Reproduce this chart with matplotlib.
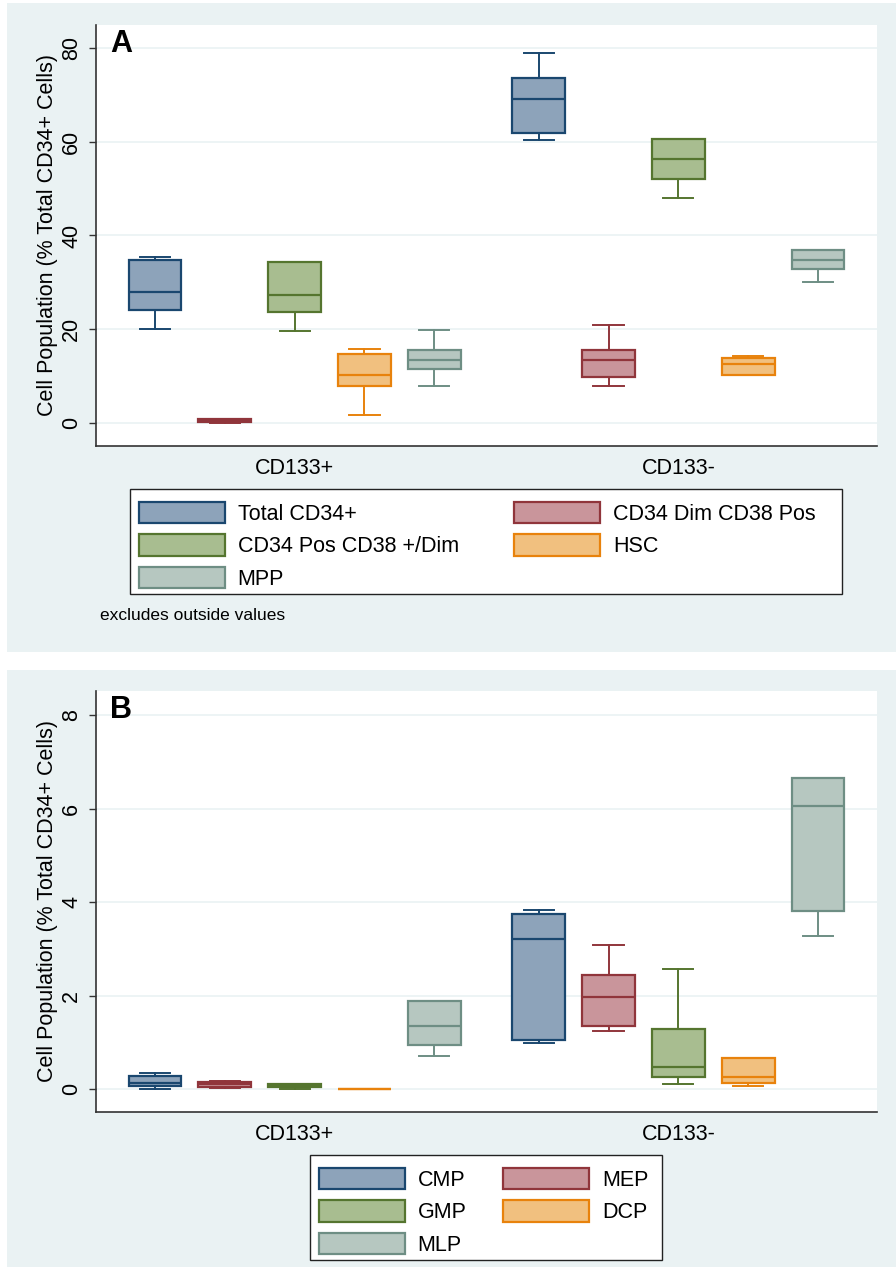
import matplotlib.pyplot as plt
from matplotlib.patches import Patch, Rectangle

plt.rcParams['font.family'] = ['Liberation Sans', 'DejaVu Sans']

# groups on the x axis
groups = ['CD133+', 'CD133-']

# panel A: whisker low, Q1, median, Q3, whisker high (per group, per population)
labels_a = ['Total CD34+', 'CD34 Dim CD38 Pos', 'CD34 Pos CD38 +/Dim', 'HSC', 'MPP']
whislo_a = [[20.0, 0.10, 19.6, 1.8, 8.0], [60.3, 7.8, 47.9, 10.3, 30.1]]
q1_a = [[24.1, 0.15, 23.6, 8.0, 11.5], [61.8, 9.9, 52.1, 10.3, 32.8]]
med_a = [[28.0, 0.50, 27.4, 10.3, 13.4], [69.2, 13.4, 56.3, 12.5, 34.8]]
q3_a = [[34.8, 0.90, 34.4, 14.7, 15.6], [73.7, 15.5, 60.6, 13.9, 37.0]]
whishi_a = [[35.4, 0.95, 34.4, 15.7, 19.8], [78.9, 20.9, 60.6, 14.2, 37.0]]
yticks_a = [0, 20, 40, 60, 80]

# panel B
labels_b = ['CMP', 'MEP', 'GMP', 'DCP', 'MLP']
whislo_b = [[0.00, 0.03, 0.00, 0.0, 0.71], [1.00, 1.25, 0.11, 0.07, 3.27]]
q1_b = [[0.07, 0.06, 0.06, 0.0, 0.94], [1.05, 1.36, 0.26, 0.14, 3.82]]
med_b = [[0.13, 0.11, 0.09, 0.0, 1.35], [3.21, 1.98, 0.48, 0.26, 6.06]]
q3_b = [[0.28, 0.16, 0.12, 0.006, 1.89], [3.75, 2.44, 1.29, 0.67, 6.67]]
whishi_b = [[0.34, 0.17, 0.12, 0.006, 1.89], [3.84, 3.08, 2.58, 0.67, 6.67]]
yticks_b = [0, 2, 4, 6, 8]

edges = ['#1a476f', '#90353b', '#55752f', '#e8820c', '#6e8e84']
fills = ['#8da3ba', '#c9959b', '#a8bd90', '#f1c07f', '#b6c7c0']
bg = '#eaf2f3'
FS = 15.5

W, H = 896, 1271
fig = plt.figure(figsize=(W / 100, H / 100), dpi=100)
fig.patch.set_facecolor('white')


def fbox(x0, y0, x1, y1):
    # pixel box (top-left origin) -> figure fraction rect
    return [x0 / W, 1 - y1 / H, (x1 - x0) / W, (y1 - y0) / H]


def frame(x0, y0, x1, y1, **kw):
    r = fbox(x0, y0, x1, y1)
    fig.add_artist(Rectangle((r[0], r[1]), r[2], r[3], transform=fig.transFigure, **kw))


for y0, y1 in [(3, 652), (670, 1267)]:
    frame(7, y0, 896, y1, facecolor=bg, edgecolor='none', zorder=-10)

group_gap = 5.49


def draw_panel(ax, labels, lo, q1, med, q3, hi, yticks, ylim, letter, legend_box, legend_right):
    stats, pos, cols = [], [], []
    for g in range(len(groups)):
        for i in range(len(labels)):
            stats.append(dict(whislo=lo[g][i], q1=q1[g][i], med=med[g][i],
                              q3=q3[g][i], whishi=hi[g][i], fliers=[]))
            pos.append(g * group_gap + i)
            cols.append(i)
    art = ax.bxp(stats, positions=pos, widths=0.75, capwidths=0.43, patch_artist=True,
                 showfliers=False, manage_ticks=False,
                 boxprops=dict(linewidth=1.6), medianprops=dict(linewidth=1.6),
                 whiskerprops=dict(linewidth=1.4), capprops=dict(linewidth=1.4))
    for k, c in enumerate(cols):
        art['boxes'][k].set_facecolor(fills[c])
        art['boxes'][k].set_edgecolor(edges[c])
        art['medians'][k].set_color(edges[c])
        for j in (2 * k, 2 * k + 1):
            art['whiskers'][j].set_color(edges[c])
            art['caps'][j].set_color(edges[c])

    ax.set_xlim(-0.84, 10.33)
    ax.set_ylim(*ylim)
    ax.set_yticks(yticks)
    ax.set_yticklabels([str(t) for t in yticks], rotation=90, va='center', fontsize=FS)
    ax.set_xticks([2, group_gap + 2])
    ax.set_xticklabels(groups, fontsize=FS)
    ax.tick_params(axis='x', length=0, pad=9)
    ax.tick_params(axis='y', length=5, width=1, color='#333333', pad=5)
    ax.grid(axis='y', color=bg, linewidth=1.2)
    ax.set_axisbelow(True)
    for s in ('top', 'right'):
        ax.spines[s].set_visible(False)
    for s in ('left', 'bottom'):
        ax.spines[s].set_color('#333333')
        ax.spines[s].set_linewidth(1.2)
    ax.set_ylabel('Cell Population (% Total CD34+ Cells)', fontsize=FS, labelpad=2)
    ax.text(0.018, 0.936, letter, transform=ax.transAxes, fontsize=22,
            fontweight='bold', va='baseline', ha='left')

    # legend: white box with a thin dark border, entries laid out in two columns
    x0, y0, x1, y1 = legend_box
    frame(x0, y0, x1, y1, facecolor='white', edgecolor='#222222', linewidth=1.0, zorder=5)
    order = [0, 2, 4, 1, 3]
    handles = [Patch(facecolor=fills[i], edgecolor=edges[i], linewidth=1.6) for i in order]
    r = fbox(x0, y0 + 4, legend_right, y1)
    leg = fig.legend(handles, [labels[i] for i in order], ncol=2, mode='expand',
                     loc='upper left', bbox_to_anchor=(r[0], r[1] + r[3], r[2], 0),
                     bbox_transform=fig.transFigure, fontsize=FS, frameon=False,
                     borderpad=0.4, handlelength=4.0, handleheight=1.15,
                     handletextpad=0.6, labelspacing=0.45, borderaxespad=0,
                     columnspacing=1.5)
    leg.set_zorder(6)


ax_a = fig.add_axes(fbox(96, 25, 877, 446))
draw_panel(ax_a, labels_a, whislo_a, q1_a, med_a, q3_a, whishi_a, yticks_a,
           (-4.9, 84.9), 'A', (130, 489, 842, 594), 824)
fig.text(100 / W, 1 - 616 / H, 'excludes outside values', fontsize=12.5,
         ha='left', va='center')

ax_b = fig.add_axes(fbox(96, 691, 877, 1112))
draw_panel(ax_b, labels_b, whislo_b, q1_b, med_b, q3_b, whishi_b, yticks_b,
           (-0.484, 8.52), 'B', (310, 1155, 662, 1260), 657)

fig.savefig('out.png', dpi=100, facecolor=fig.get_facecolor())
